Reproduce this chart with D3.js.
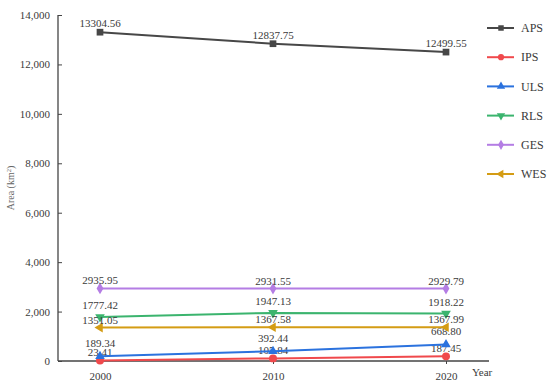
<!DOCTYPE html>
<html>
<head>
<meta charset="utf-8">
<script src="https://cdn.jsdelivr.net/npm/d3@7"></script>
<style>
  body { margin: 0; background: #fff; }
  text { font-family: "Liberation Serif", "DejaVu Serif", serif; fill: #3a3a3a; }
</style>
</head>
<body>
<div id="chart"></div>
<script>
// data
const years = [2000, 2010, 2020]
const seriesNames = ["APS", "IPS", "ULS", "RLS", "GES", "WES"]
const aps = [13304.56, 12837.75, 12499.55]
const ips = [23.41, 105.84, 187.45]
const uls = [189.34, 392.44, 668.80]
const rls = [1777.42, 1947.13, 1918.22]
const ges = [2935.95, 2931.55, 2929.79]
const wes = [1351.05, 1367.58, 1367.99]
const yTicks = [0, 2000, 4000, 6000, 8000, 10000, 12000, 14000]

const values = [aps, ips, uls, rls, ges, wes]

// look of each series
const look = {
  APS: { color: "#474747", symbol: d3.symbolSquare, size: 45, rot: 0, dy: -5 },
  IPS: { color: "#f0494c", symbol: d3.symbolCircle, size: 50, rot: 0, dy: -4 },
  ULS: { color: "#2b72de", symbol: d3.symbolTriangle, size: 40, rot: 0, dy: -9 },
  RLS: { color: "#3bb46e", symbol: d3.symbolTriangle, size: 40, rot: 180, dy: -8 },
  GES: { color: "#b47de4", symbol: d3.symbolDiamond, size: 40, rot: 0, dy: -4 },
  WES: { color: "#d49c14", symbol: d3.symbolTriangle, size: 40, rot: -90, dy: -4 }
}

const width = 550, height = 387
const marginLeft = 58, marginTop = 15, marginBottom = 26
const axisEnd = 489

const x = d3.scaleLinear().domain([2000, 2020]).range([100, 446])
const y = d3.scaleLinear().domain([0, 14000]).range([height - marginBottom, marginTop])

const svg = d3.select("#chart").append("svg")
    .attr("width", width)
    .attr("height", height)
    .attr("viewBox", [0, 0, width, height])

// y axis
svg.append("g")
    .attr("transform", `translate(${marginLeft},0)`)
    .call(d3.axisLeft(y).tickValues(yTicks).tickSize(-4).tickPadding(8).tickFormat(d3.format(",")))
    .call(g => g.select(".domain").attr("stroke", "#444").attr("stroke-width", 1.3).attr("d", `M0,${y(14000)}V${y(0)}`))
    .call(g => g.selectAll(".tick line").attr("stroke", "#444"))
    .call(g => g.selectAll(".tick text").attr("font-size", 11).attr("fill", "#3a3a3a"))

// x axis
svg.append("g")
    .attr("transform", `translate(0,${y(0)})`)
    .call(d3.axisBottom(x).tickValues(years).tickSize(3).tickPadding(8).tickFormat(d3.format("d")))
    .call(g => g.select(".domain").remove())
    .call(g => g.selectAll(".tick line").attr("stroke", "#444"))
    .call(g => g.selectAll(".tick text").attr("font-size", 11).attr("fill", "#3a3a3a"))
    .call(g => g.append("line")
        .attr("x1", marginLeft).attr("x2", axisEnd)
        .attr("stroke", "#444").attr("stroke-width", 1.3))

svg.append("text")
    .attr("x", 472)
    .attr("y", y(0) + 15)
    .attr("font-size", 11)
    .text("Year")

// y axis title
svg.append("text")
    .attr("transform", `translate(14,${188}) rotate(-90)`)
    .attr("text-anchor", "middle")
    .attr("font-size", 10)
    .style("fill", "#666")
    .html('Area (km<tspan baseline-shift="super" font-size="6.5">2</tspan>)')

const line = d3.line()
    .x((d, i) => x(years[i]))
    .y(d => y(d))

const series = svg.append("g")
  .selectAll("g")
  .data(seriesNames)
  .join("g")

series.append("path")
    .attr("fill", "none")
    .attr("stroke", n => look[n].color)
    .attr("stroke-width", 2)
    .attr("d", (n, i) => line(values[i]))

series.each(function(n, i) {
  const g = d3.select(this)
  const st = look[n]
  g.selectAll("path.mark")
    .data(values[i])
    .join("path")
      .attr("class", "mark")
      .attr("fill", st.color)
      .attr("d", d3.symbol(st.symbol, st.size))
      .attr("transform", (d, j) => `translate(${x(years[j])},${y(d)}) rotate(${st.rot})`)
  g.selectAll("text")
    .data(values[i])
    .join("text")
      .attr("x", (d, j) => x(years[j]))
      .attr("y", d => y(d) + st.dy)
      .attr("text-anchor", "middle")
      .attr("font-size", 11)
      .text(d => d.toFixed(2))
})

// legend
const legend = svg.append("g")
  .selectAll("g")
  .data(seriesNames)
  .join("g")
    .attr("transform", (n, i) => `translate(487,${28 + i * 29.2})`)

legend.append("line")
    .attr("x1", 0).attr("x2", 27)
    .attr("stroke", n => look[n].color)
    .attr("stroke-width", 2)
legend.append("path")
    .attr("fill", n => look[n].color)
    .attr("d", n => d3.symbol(look[n].symbol, 30)())
    .attr("transform", n => `translate(14,0) rotate(${look[n].rot})`)
legend.append("text")
    .attr("x", 34)
    .attr("dy", "0.35em")
    .attr("font-size", 12)
    .text(n => n)
</script>
</body>
</html>
